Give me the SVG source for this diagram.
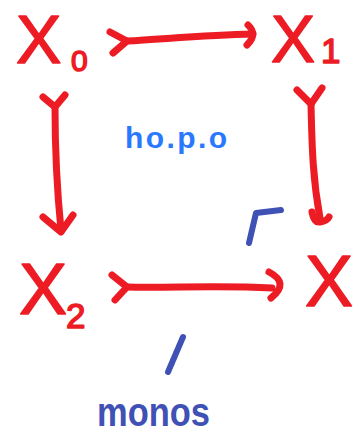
<svg xmlns="http://www.w3.org/2000/svg" width="362" height="435" viewBox="0 0 362 435">
  <style>
    .obj { font-family: "Liberation Sans", Arial, sans-serif; fill: #ED1C24; stroke: #ED1C24; stroke-width: 1.5; stroke-linejoin: round; }
    .arrow { fill: none; stroke: #ED1C24; stroke-width: 7; stroke-linecap: round; stroke-linejoin: round; }
    .mark { fill: none; stroke: #3F51B5; stroke-width: 6; stroke-linecap: round; stroke-linejoin: round; }
    .note { font-family: "Liberation Sans", Arial, sans-serif; font-weight: bold; }
  </style>
  <rect width="362" height="435" fill="#FFFFFF"/>

  <!-- objects of the square -->
  <g id="node-x0">
    <text class="obj" x="16" y="63" font-size="68">X</text>
    <text class="obj" x="71" y="71" font-size="30">0</text>
  </g>
  <g id="node-x1">
    <text class="obj" x="271" y="62" font-size="66">X</text>
    <text class="obj" x="321" y="63" font-size="35">1</text>
  </g>
  <g id="node-x2">
    <text class="obj" x="19" y="314" font-size="72">X</text>
    <text class="obj" x="66" y="328" font-size="35">2</text>
  </g>
  <g id="node-x">
    <text class="obj" x="305" y="306" font-size="72">X</text>
  </g>

  <!-- maps: tails mark monomorphisms -->
  <g id="connectors">
    <g id="x0-x1">
      <path class="arrow" d="M110,32 L127,41 L113,53"/>
      <path class="arrow" d="M127,41 C165,39 205,35 253,34"/>
      <path class="arrow" d="M248,25 Q258,34 247,45"/>
    </g>
    <g id="x0-x2">
      <path class="arrow" d="M43,97 L55,107 L65,95"/>
      <path class="arrow" d="M55,107 C55,150 57,190 61,230"/>
      <path class="arrow" d="M43,217 L61,232 L73,215"/>
    </g>
    <g id="x1-x">
      <path class="arrow" d="M297,90 L311,104 L322,88"/>
      <path class="arrow" d="M311,104 C312,150 313,180 320,218"/>
      <path class="arrow" d="M312,212 Q314,223 320,222 Q327,221 329,217"/>
    </g>
    <g id="x2-x">
      <path class="arrow" d="M112,275 L127,287 L115,300"/>
      <path class="arrow" d="M127,287 C170,288 220,285 272,288"/>
      <path class="arrow" d="M269,272 Q290,283 271,298"/>
    </g>
  </g>

  <!-- pullback corner and annotations -->
  <g id="pullback-corner">
    <path class="mark" d="M249,243 L256,213 L281,210"/>
  </g>
  <g id="label-hopo">
    <text class="note" x="125" y="148" font-size="30" fill="#2979FF" textLength="102" lengthAdjust="spacing">ho.p.o</text>
  </g>
  <g id="mono-tick">
    <path class="mark" d="M183,337 L168,372"/>
  </g>
  <g id="label-monos">
    <text class="note" x="97" y="426" font-size="40" fill="#3F51B5" textLength="113" lengthAdjust="spacingAndGlyphs">monos</text>
  </g>
</svg>
